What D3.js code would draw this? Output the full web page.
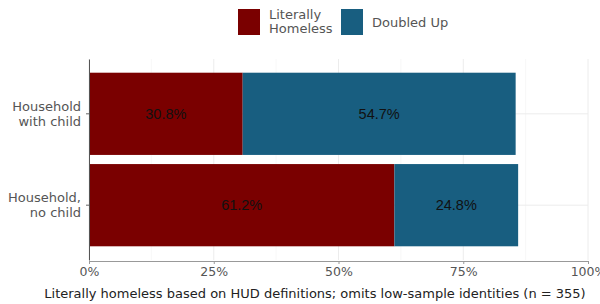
<!DOCTYPE html>
<html>
<head>
<meta charset="utf-8">
<script src="https://cdn.jsdelivr.net/npm/d3@7.9.0/dist/d3.min.js"></script>
<style>
  body { margin: 0; background: #fff; }
  svg { display: block; }
</style>
</head>
<body>
<svg width="600" height="304"></svg>
<script>
// data
const groups = ['Household\nwith child', 'Household,\nno child'];
const literallyHomeless = [30.8, 61.2];
const doubledUp = [54.7, 24.8];
const seriesNames = ['Literally\nHomeless', 'Doubled Up'];
const xTicks = [0, 25, 50, 75, 100];
const xTitle = 'Literally homeless based on HUD definitions; omits low-sample identities (n = 355)';

const colors = ['#7a0000', '#185e80'];
const svg = d3.select('svg');
const margin = { top: 59, right: 12, bottom: 44, left: 89 };
const W = 600, H = 304;
const axisFont = 'DejaVu Sans, sans-serif';

let x = d3.scaleLinear().domain([0, 100]).range([margin.left, W - margin.right]);
// ggplot-like spacing: bar width 0.9, expand 0.6 on each side
let y = d3.scaleBand().domain(groups).range([margin.top, H - margin.bottom])
    .paddingInner(0.1).paddingOuter(0.15);

// grid
let minor = d3.range(12.5, 100, 25);
svg.append('g').selectAll('line').data(minor).join('line')
    .attr('x1', d => x(d)).attr('x2', d => x(d))
    .attr('y1', margin.top).attr('y2', H - margin.bottom)
    .attr('stroke', '#f4f4f4').attr('stroke-width', 0.6);
svg.append('g').selectAll('line').data(xTicks).join('line')
    .attr('x1', d => x(d)).attr('x2', d => x(d))
    .attr('y1', margin.top).attr('y2', H - margin.bottom)
    .attr('stroke', '#ececec').attr('stroke-width', 1);
svg.append('g').selectAll('line').data(groups).join('line')
    .attr('x1', margin.left).attr('x2', W - margin.right)
    .attr('y1', d => y(d) + y.bandwidth() / 2).attr('y2', d => y(d) + y.bandwidth() / 2)
    .attr('stroke', '#ececec').attr('stroke-width', 1);

// stacked bars
let rows = groups.map((g, i) => ({ group: g, lit: literallyHomeless[i], dbl: doubledUp[i] }));
let stack = d3.stack().keys(['lit', 'dbl'])(rows);

stack.forEach((layer, k) => {
    svg.append('g').selectAll('rect').data(layer).join('rect')
        .attr('x', d => x(d[0]))
        .attr('y', d => y(d.data.group))
        .attr('width', d => x(d[1]) - x(d[0]))
        .attr('height', y.bandwidth())
        .attr('fill', colors[k]);
    svg.append('g').selectAll('text').data(layer).join('text')
        .attr('x', d => (x(d[0]) + x(d[1])) / 2)
        .attr('y', d => y(d.data.group) + y.bandwidth() / 2)
        .attr('dy', '0.36em')
        .attr('text-anchor', 'middle')
        .style('font-family', 'Liberation Sans, Arial, sans-serif')
        .style('font-size', '14.5px')
        .attr('fill', '#111')
        .text(d => (d[1] - d[0]).toFixed(1) + '%');
});

// axes
let xAxis = svg.append('g')
    .attr('transform', `translate(0,${H - margin.bottom + 1})`)
    .call(d3.axisBottom(x).tickValues(xTicks).tickFormat(d => d + '%').tickSize(3).tickSizeOuter(0).tickPadding(3));
xAxis.select('.domain').attr('stroke', '#999');
xAxis.selectAll('.tick line').attr('stroke', '#999');
xAxis.selectAll('text')
    .style('font-family', axisFont).style('font-size', '12.5px').attr('fill', '#555');

let yAxis = svg.append('g')
    .attr('transform', `translate(${margin.left},0)`)
    .call(d3.axisLeft(y).tickSize(3).tickSizeOuter(0).tickFormat(''));
yAxis.select('.domain').attr('stroke', '#555');
yAxis.selectAll('.tick line').attr('stroke', '#666');
yAxis.selectAll('.tick').append('text')
    .attr('text-anchor', 'end')
    .style('font-family', axisFont).style('font-size', '13px').attr('fill', '#555')
    .selectAll('tspan').data(d => d.split('\n')).join('tspan')
    .attr('x', -8)
    .attr('y', (d, i) => i === 0 ? -3 : 12)
    .text(d => d);

// axis title
svg.append('text')
    .attr('x', 315).attr('y', 298)
    .attr('text-anchor', 'middle')
    .style('font-family', axisFont).style('font-size', '13px').attr('fill', '#222')
    .text(xTitle);

// legend
let legendX = [238, 341];
seriesNames.forEach((name, i) => {
    let g = svg.append('g').attr('transform', `translate(${legendX[i]},9)`);
    g.append('rect').attr('width', 22).attr('height', 26).attr('fill', colors[i]);
    let lines = name.split('\n');
    g.append('text')
        .style('font-family', axisFont).style('font-size', '13px').attr('fill', '#555')
        .selectAll('tspan').data(lines).join('tspan')
        .attr('x', 31)
        .attr('y', (d, j) => lines.length === 1 ? 17.5 : 10 + j * 14)
        .text(d => d);
});
</script>
</body>
</html>
